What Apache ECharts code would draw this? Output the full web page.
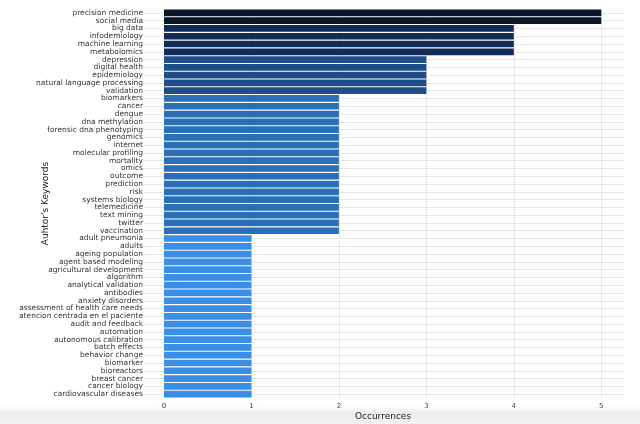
<!DOCTYPE html>
<html lang="en">
  <head>
    <meta charset="UTF-8" />
    <title>Author's keywords occurrences</title>
    <script src="https://cdn.jsdelivr.net/npm/echarts@6/dist/echarts.min.js"></script>
    <style>
      html, body { margin: 0; padding: 0; background: #fff; }
      #main { width: 640px; height: 424px; }
    </style>
  </head>
  <body>
    <div id="main"></div>

    <script>
      const keywords = [
        'precision medicine', 'social media',
        'big data', 'infodemiology', 'machine learning', 'metabolomics',
        'depression', 'digital health', 'epidemiology', 'natural language processing', 'validation',
        'biomarkers', 'cancer', 'dengue', 'dna methylation', 'forensic dna phenotyping',
        'genomics', 'internet', 'molecular profiling', 'mortality', 'omics', 'outcome',
        'prediction', 'risk', 'systems biology', 'telemedicine', 'text mining', 'twitter',
        'vaccination',
        'adult pneumonia', 'adults', 'ageing population', 'agent based modeling',
        'agricultural development', 'algorithm', 'analytical validation', 'antibodies',
        'anxiety disorders', 'assessment of health care needs',
        'atencion centrada en el paciente', 'audit and feedback', 'automation',
        'autonomous calibration', 'batch effects', 'behavior change', 'biomarker',
        'bioreactors', 'breast cancer', 'cancer biology', 'cardiovascular diseases'
      ];

      const occurrences = [
        5, 5,
        4, 4, 4, 4,
        3, 3, 3, 3, 3,
        2, 2, 2, 2, 2, 2, 2, 2, 2, 2, 2, 2, 2, 2, 2, 2, 2, 2,
        1, 1, 1, 1, 1, 1, 1, 1, 1, 1, 1, 1, 1, 1, 1, 1, 1, 1, 1, 1, 1
      ];

      const xTicks = [0, 1, 2, 3, 4, 5];

      // bar colour depends on the count
      const shade = {
        1: '#3a8ee6',
        2: '#2a6fb6',
        3: '#1e4d88',
        4: '#122c5a',
        5: '#0a1628'
      };

      const myChart = echarts.init(document.getElementById('main'));

      const options = {
        backgroundColor: '#fff',
        animation: false,
        textStyle: { fontFamily: 'DejaVu Sans' },
        graphic: [
          {
            type: 'rect',
            left: 0,
            top: 406,
            z: -10,
            shape: { width: 640, height: 18 },
            style: {
              fill: new echarts.graphic.LinearGradient(0, 0, 0, 1, [
                { offset: 0, color: '#ffffff' },
                { offset: 0.4, color: '#ececec' },
                { offset: 1, color: '#f3f3f3' }
              ])
            }
          }
        ],
        grid: {
          left: 164,
          right: 16,
          top: 9,
          bottom: 26,
          containLabel: false,
          outerBoundsMode: 'none'
        },
        xAxis: {
          type: 'value',
          min: 0,
          max: 5.26,
          interval: 1,
          name: 'Occurrences',
          nameLocation: 'middle',
          nameGap: 14,
          nameMoveOverlap: false,
          nameTextStyle: { fontSize: 9, color: '#222', padding: [0, 22, 0, 0] },
          axisLine: { show: false },
          axisTick: { show: false },
          axisLabel: {
            fontSize: 7,
            color: '#444',
            margin: 5,
            showMaxLabel: false,
            formatter: (v) => (xTicks.includes(v) ? String(v) : '')
          },
          splitLine: { show: true, showMaxLine: false, lineStyle: { color: '#e6e6e6', width: 1 } }
        },
        yAxis: {
          type: 'category',
          data: keywords,
          inverse: true,
          name: "Auhtor's Keywords",
          nameLocation: 'middle',
          nameGap: 114,
          nameRotate: 90,
          nameMoveOverlap: false,
          nameTextStyle: { fontSize: 9, color: '#222' },
          axisLine: { show: false },
          axisTick: {
            show: true,
            alignWithLabel: true,
            length: 20,
            lineStyle: { color: '#e6e6e6' }
          },
          axisLabel: {
            fontSize: 7.5,
            color: '#333',
            margin: 21,
            interval: 0
          },
          splitLine: {
            show: true,
            alignWithLabel: true,
            lineStyle: { color: '#e6e6e6', width: 1 }
          }
        },
        series: [
          {
            type: 'bar',
            data: occurrences,
            barCategoryGap: '14%',
            itemStyle: {
              color: (p) => shade[p.value]
            }
          }
        ]
      };

      myChart.setOption(options);
    </script>
  </body>
</html>
